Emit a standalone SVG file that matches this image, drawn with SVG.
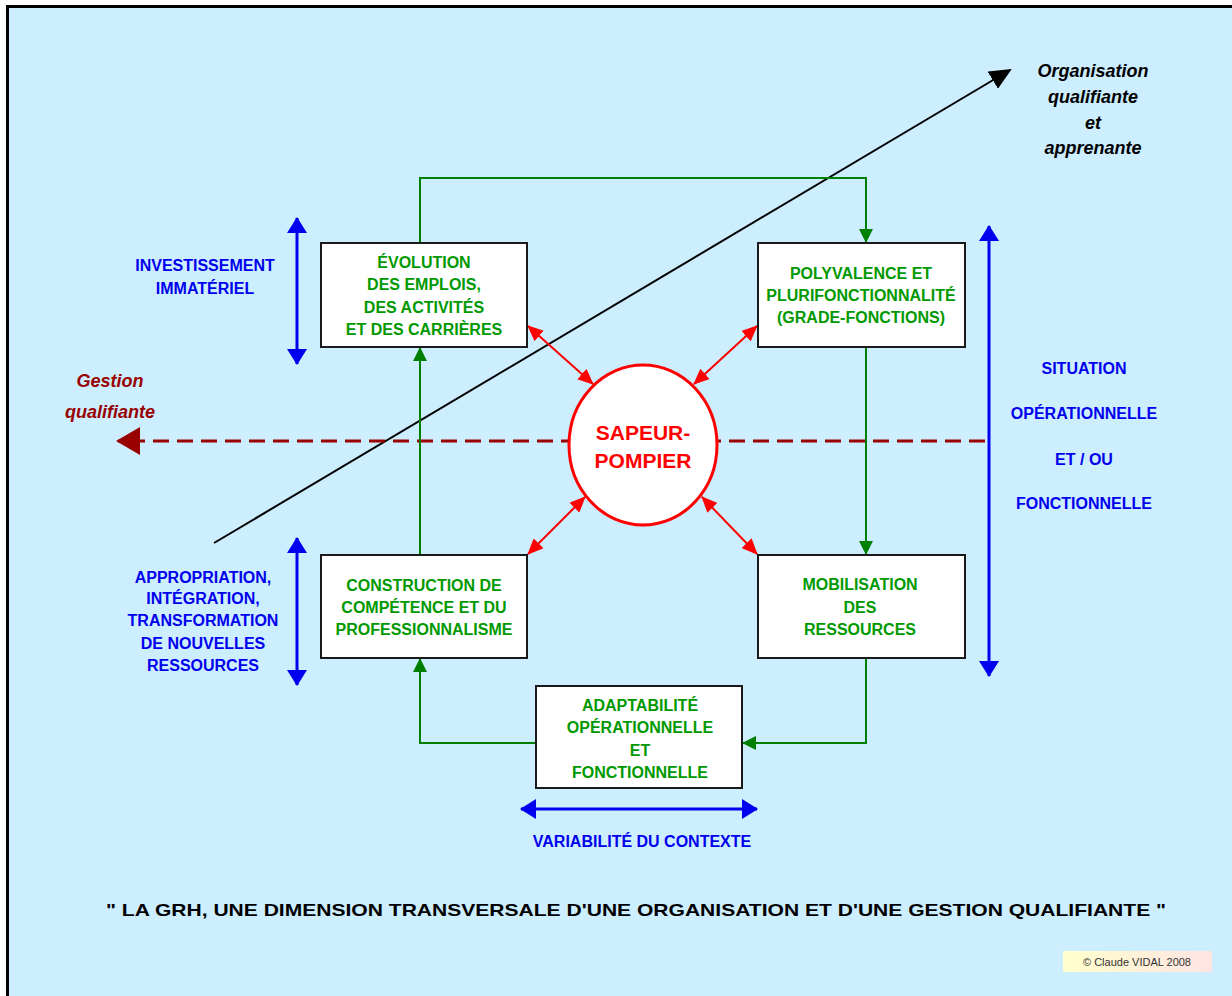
<svg xmlns="http://www.w3.org/2000/svg" width="1232" height="996" viewBox="0 0 1232 996">
  <defs>
    <style>
      .box { fill: #ffffff; stroke: #1a1a1a; stroke-width: 2; }
      .gt { font-family: "Liberation Sans", Arial, sans-serif; font-weight: bold; font-size: 16px; fill: #009900; text-anchor: middle; }
      .bt { font-family: "Liberation Sans", Arial, sans-serif; font-weight: bold; font-size: 16px; fill: #0000ee; text-anchor: middle; }
      .green { fill: none; stroke: #008000; stroke-width: 2; marker-end: url(#ga); }
      .red { stroke: #ff0000; stroke-width: 2; marker-start: url(#ra); marker-end: url(#ra); }
      .blue { stroke: #0000ee; stroke-width: 3; marker-start: url(#ba); marker-end: url(#ba); }
    </style>
    <marker id="ga" markerUnits="userSpaceOnUse" markerWidth="14" markerHeight="14" refX="13" refY="7" orient="auto">
      <path d="M0,0 L14,7 L0,14 z" fill="#008000"/>
    </marker>
    <marker id="ra" markerUnits="userSpaceOnUse" markerWidth="16" markerHeight="14" refX="15" refY="7" orient="auto-start-reverse">
      <path d="M0,0 L16,7 L0,14 z" fill="#ff0000"/>
    </marker>
    <marker id="ba" markerUnits="userSpaceOnUse" markerWidth="16" markerHeight="20" refX="15" refY="10" orient="auto-start-reverse">
      <path d="M0,0 L16,10 L0,20 z" fill="#0000ee"/>
    </marker>
    <marker id="da" markerUnits="userSpaceOnUse" markerWidth="24" markerHeight="28" refX="22" refY="14" orient="auto">
      <path d="M0,0 L24,14 L0,28 z" fill="#990000"/>
    </marker>
    <marker id="ka" markerUnits="userSpaceOnUse" markerWidth="22" markerHeight="20" refX="20" refY="10" orient="auto">
      <path d="M0,0 L22,10 L0,20 z" fill="#000000"/>
    </marker>
    <linearGradient id="cg" x1="0" y1="0" x2="1" y2="0">
      <stop offset="0" stop-color="#ffffcc"/>
      <stop offset="1" stop-color="#ffe4e4"/>
    </linearGradient>
  </defs>

  <!-- background and frame -->
  <rect x="0" y="0" width="1232" height="996" fill="#ffffff"/>
  <rect x="7.5" y="6.5" width="1240" height="1000" fill="#cceeff" stroke="#000000" stroke-width="3"/>

  <!-- connectors -->
  <g id="connectors">
    <!-- black diagonal -->
    <line x1="214" y1="543" x2="1010" y2="70" stroke="#000000" stroke-width="2" marker-end="url(#ka)"/>
    <!-- dashed gestion qualifiante -->
    <line x1="985" y1="441" x2="118" y2="441" stroke="#990000" stroke-width="3" stroke-dasharray="16,8" marker-end="url(#da)"/>
    <!-- green cycle -->
    <polyline class="green" points="420,243 420,178 866,178 866,242"/>
    <line class="green" x1="866" y1="347" x2="866" y2="554"/>
    <polyline class="green" points="866,658 866,743 743,743"/>
    <polyline class="green" points="536,743 420,743 420,659"/>
    <line class="green" x1="420" y1="555" x2="420" y2="348"/>
    <!-- red double arrows -->
    <line class="red" x1="528" y1="326" x2="593" y2="384"/>
    <line class="red" x1="757" y1="326" x2="694" y2="384"/>
    <line class="red" x1="528" y1="554" x2="585" y2="497"/>
    <line class="red" x1="757" y1="554" x2="702" y2="497"/>
    <!-- blue double arrows -->
    <line class="blue" x1="297" y1="218" x2="297" y2="364"/>
    <line class="blue" x1="297" y1="538" x2="297" y2="685"/>
    <line class="blue" x1="989" y1="226" x2="989" y2="676"/>
    <line class="blue" x1="521" y1="809" x2="757" y2="809"/>
  </g>

  <!-- nodes -->
  <g id="node-evolution">
    <rect class="box" x="321" y="243" width="206" height="104"/>
    <text class="gt" x="424" y="268">ÉVOLUTION</text>
    <text class="gt" x="424" y="290">DES EMPLOIS,</text>
    <text class="gt" x="424" y="313">DES ACTIVITÉS</text>
    <text class="gt" x="424" y="335">ET DES CARRIÈRES</text>
  </g>
  <g id="node-polyvalence">
    <rect class="box" x="758" y="243" width="207" height="104"/>
    <text class="gt" x="861" y="279">POLYVALENCE ET</text>
    <text class="gt" x="861" y="301">PLURIFONCTIONNALITÉ</text>
    <text class="gt" x="861" y="323">(GRADE-FONCTIONS)</text>
  </g>
  <g id="node-construction">
    <rect class="box" x="321" y="555" width="206" height="103"/>
    <text class="gt" x="424" y="591">CONSTRUCTION DE</text>
    <text class="gt" x="424" y="613">COMPÉTENCE ET DU</text>
    <text class="gt" x="424" y="635">PROFESSIONNALISME</text>
  </g>
  <g id="node-mobilisation">
    <rect class="box" x="758" y="555" width="207" height="103"/>
    <text class="gt" x="860" y="590">MOBILISATION</text>
    <text class="gt" x="860" y="613">DES</text>
    <text class="gt" x="860" y="635">RESSOURCES</text>
  </g>
  <g id="node-adaptabilite">
    <rect class="box" x="536" y="686" width="206" height="102"/>
    <text class="gt" x="640" y="711">ADAPTABILITÉ</text>
    <text class="gt" x="640" y="733">OPÉRATIONNELLE</text>
    <text class="gt" x="640" y="756">ET</text>
    <text class="gt" x="640" y="778">FONCTIONNELLE</text>
  </g>
  <g id="node-sapeur">
    <ellipse cx="643" cy="445" rx="74" ry="80" fill="#ffffff" stroke="#ff0000" stroke-width="3"/>
    <text x="643" y="440" font-family="Liberation Sans, Arial, sans-serif" font-weight="bold" font-size="21" fill="#ff0000" text-anchor="middle">SAPEUR-</text>
    <text x="643" y="468" font-family="Liberation Sans, Arial, sans-serif" font-weight="bold" font-size="21" fill="#ff0000" text-anchor="middle">POMPIER</text>
  </g>

  <!-- labels -->
  <g id="label-investissement">
    <text class="bt" x="205" y="271">INVESTISSEMENT</text>
    <text class="bt" x="205" y="294">IMMATÉRIEL</text>
  </g>
  <g id="label-appropriation">
    <text class="bt" x="203" y="583">APPROPRIATION,</text>
    <text class="bt" x="203" y="604">INTÉGRATION,</text>
    <text class="bt" x="203" y="626">TRANSFORMATION</text>
    <text class="bt" x="203" y="649">DE NOUVELLES</text>
    <text class="bt" x="203" y="671">RESSOURCES</text>
  </g>
  <g id="label-situation">
    <text class="bt" x="1084" y="374">SITUATION</text>
    <text class="bt" x="1084" y="419">OPÉRATIONNELLE</text>
    <text class="bt" x="1084" y="465">ET / OU</text>
    <text class="bt" x="1084" y="509">FONCTIONNELLE</text>
  </g>
  <g id="label-variabilite">
    <text class="bt" x="642" y="847">VARIABILITÉ DU CONTEXTE</text>
  </g>
  <g id="label-gestion" font-family="Liberation Sans, Arial, sans-serif" font-weight="bold" font-style="italic" font-size="18" fill="#990000" text-anchor="middle">
    <text x="110" y="387">Gestion</text>
    <text x="110" y="418">qualifiante</text>
  </g>
  <g id="label-organisation" font-family="Liberation Sans, Arial, sans-serif" font-weight="bold" font-style="italic" font-size="18" fill="#000000" text-anchor="middle">
    <text x="1093" y="77">Organisation</text>
    <text x="1093" y="103">qualifiante</text>
    <text x="1093" y="129">et</text>
    <text x="1093" y="154">apprenante</text>
  </g>

  <!-- footer -->
  <text x="636" y="916" font-family="Liberation Sans, Arial, sans-serif" font-weight="bold" font-size="17" fill="#000000" text-anchor="middle" textLength="1060" lengthAdjust="spacingAndGlyphs">" LA GRH, UNE DIMENSION TRANSVERSALE D'UNE ORGANISATION ET D'UNE GESTION QUALIFIANTE "</text>
  <rect x="1063" y="951" width="149" height="21" fill="url(#cg)"/>
  <text x="1137" y="966" font-family="Liberation Sans, Arial, sans-serif" font-size="11" fill="#333333" text-anchor="middle">© Claude VIDAL 2008</text>
</svg>
